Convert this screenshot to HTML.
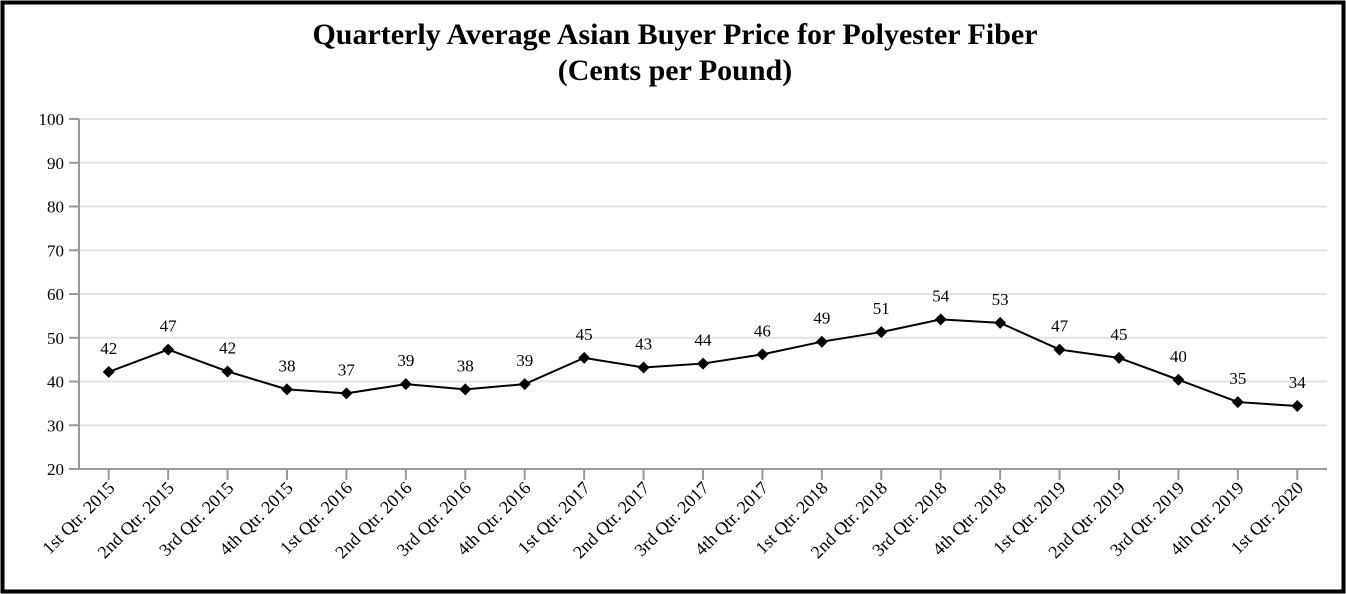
<!DOCTYPE html>
<html><head><meta charset="utf-8"><style>
html,body{margin:0;padding:0;background:#fff}
svg{display:block}
text{font-family:"Liberation Serif",serif;fill:#000}
</style></head><body>
<svg id="chart" width="1346" height="594" xmlns="http://www.w3.org/2000/svg">
<rect x="2.5" y="2.5" width="1341" height="589" fill="#fff" stroke="#000" stroke-width="4"/>
<text x="675" y="44" text-anchor="middle" font-size="30" font-weight="bold">Quarterly Average Asian Buyer Price for Polyester Fiber</text>
<text x="675" y="80" text-anchor="middle" font-size="30" font-weight="bold">(Cents per Pound)</text>
<g id="grid"></g><g id="axes"></g><g id="series"></g>
</svg>
<script>
const categories=["1st Qtr. 2015","2nd Qtr. 2015","3rd Qtr. 2015","4th Qtr. 2015","1st Qtr. 2016","2nd Qtr. 2016","3rd Qtr. 2016","4th Qtr. 2016","1st Qtr. 2017","2nd Qtr. 2017","3rd Qtr. 2017","4th Qtr. 2017","1st Qtr. 2018","2nd Qtr. 2018","3rd Qtr. 2018","4th Qtr. 2018","1st Qtr. 2019","2nd Qtr. 2019","3rd Qtr. 2019","4th Qtr. 2019","1st Qtr. 2020"];
const values=[42.2,47.3,42.3,38.2,37.3,39.4,38.2,39.4,45.4,43.2,44.1,46.2,49.1,51.3,54.2,53.4,47.3,45.4,40.4,35.3,34.4];
const valueLabels=["42","47","42","38","37","39","38","39","45","43","44","46","49","51","54","53","47","45","40","35","34"];
const yTicks=[20,30,40,50,60,70,80,90,100];
const NS="http://www.w3.org/2000/svg";
const L=79,R=1327,T=119,B=469,ymin=20,ymax=100;
const band=(R-L)/categories.length;
const x=i=>L+band*(i+0.5);
const y=v=>B-(v-ymin)/(ymax-ymin)*(B-T);
function mk(tag,attrs,parent){const e=document.createElementNS(NS,tag);for(const k in attrs)e.setAttribute(k,attrs[k]);parent.appendChild(e);return e;}
const grid=document.getElementById('grid'),axes=document.getElementById('axes'),series=document.getElementById('series');
yTicks.forEach(t=>{
  if(t>ymin){const g=mk('line',{x1:L,x2:R,y1:y(t),y2:y(t),stroke:'#e3e3e3','stroke-width':2},grid);
  
  }
  const tk=mk('line',{x1:L-10,x2:L,y1:y(t),y2:y(t),stroke:'#999','stroke-width':2},axes);
  
  
  const lb=mk('text',{x:L-15,y:y(t)+6,'text-anchor':'end','font-size':17},axes);lb.textContent=t;
  
  
});
const ya=mk('line',{x1:L,x2:L,y1:T,y2:B,stroke:'#999','stroke-width':2},axes);


const xa=mk('line',{x1:L-10,x2:R,y1:B,y2:B,stroke:'#999','stroke-width':2},axes);


categories.forEach((c,i)=>{
  const tk=mk('line',{x1:x(i),x2:x(i),y1:B,y2:B+11,stroke:'#999','stroke-width':2},axes);
  
  
  const lb=mk('text',{x:x(i)+7,y:B+20,'text-anchor':'end','font-size':18,transform:`rotate(-45 ${x(i)+7} ${B+20})`},axes);
  lb.textContent=c;
  
  
});
const line=mk('polyline',{points:values.map((v,i)=>x(i)+','+y(v)).join(' '),fill:'none',stroke:'#000','stroke-width':2},series);


values.forEach((v,i)=>{
  const cx=x(i),cy=y(v);
  const m=mk('polygon',{points:`${cx},${cy-6} ${cx+6},${cy} ${cx},${cy+6} ${cx-6},${cy}`,fill:'#000'},series);
  
  
  const lb=mk('text',{x:cx,y:cy-18,'text-anchor':'middle','font-size':17},series);
  lb.textContent=valueLabels[i];
  
  
});
</script>
</body></html>
